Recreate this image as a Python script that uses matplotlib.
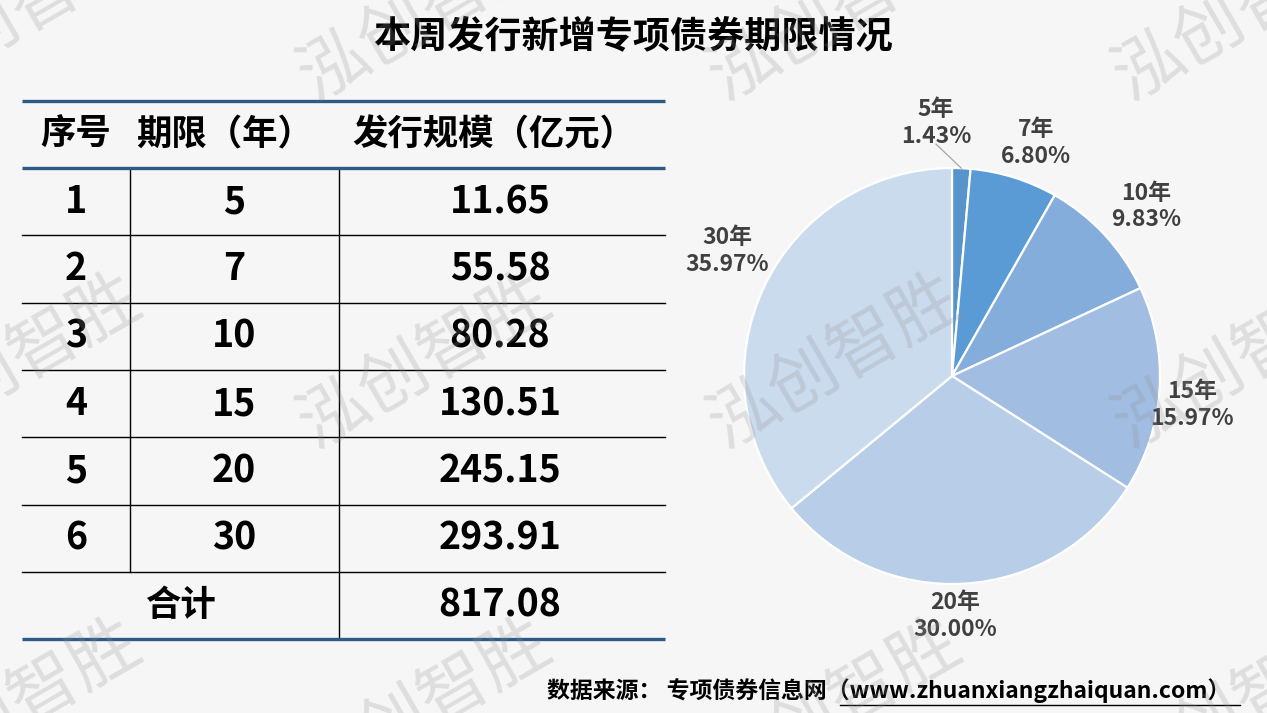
import matplotlib
matplotlib.use("Agg")
import matplotlib.pyplot as plt
import numpy as np

plt.rcParams['font.family'] = ['Noto Sans CJK SC', 'DejaVu Sans']

# ---------------- data ----------------
title = "本周发行新增专项债券期限情况"
headers = ["序号", "期限（年）", "发行规模（亿元）"]
seq_no = ["1", "2", "3", "4", "5", "6"]
terms = [5, 7, 10, 15, 20, 30]
amounts = [11.65, 55.58, 80.28, 130.51, 245.15, 293.91]
total_label = "合计"
total_amount = "817.08"
pie_labels = ["5年", "7年", "10年", "15年", "20年", "30年"]
source = "数据来源： 专项债券信息网（www.zhuanxiangzhaiquan.com）"
watermark = "泓创智胜"

# ---------------- style / layout ----------------
W, H = 1267, 713
bg = '#f6f6f6'
pie_colors = ['#5794cb', '#5b9bd5', '#85addc', '#a1bde2', '#b7cde8', '#cbdbee']
blue_line = '#2e5a88'
label_color = '#404040'
# label positions (pie data units, radius = 1)
label_pos = [(-0.077, 1.215), (0.404, 1.12), (0.933, 0.815),
             (1.154, -0.14), (0.014, -1.155), (-1.082, 0.60)]

fig = plt.figure(figsize=(W / 100, H / 100), dpi=100, facecolor=bg)

# full-figure axes in pixel coords for table and texts
axf = fig.add_axes([0, 0, 1, 1])
axf.set_xlim(0, W)
axf.set_ylim(H, 0)
axf.axis('off')
axf.set_facecolor(bg)

# title
axf.text(633, 37, title, ha='center', va='center', fontsize=26.7,
         fontweight='bold', color='black')

# ---------------- table ----------------
x0, x1 = 22, 665
xv1, xv2 = 130, 339
y_top = 101
hdr_h = 67
row_h = 67.3
n = len(seq_no)
y_hdr = y_top + hdr_h
row_edges = [y_hdr + i * row_h for i in range(n + 2)]  # rows + total
y_bot = row_edges[-1]

# thick blue lines
for y in (y_top, y_hdr, y_bot):
    axf.plot([x0, x1], [y, y], color=blue_line, lw=2.4, solid_capstyle='butt', zorder=3)
# thin row lines
for y in row_edges[1:-1]:
    axf.plot([x0, x1], [y, y], color='black', lw=1.0, zorder=2)
# vertical lines
axf.plot([xv1, xv1], [y_hdr, row_edges[n]], color='black', lw=1.0, zorder=2)
axf.plot([xv2, xv2], [y_hdr, y_bot], color='black', lw=1.0, zorder=2)

hdr_x = [76, 225, 494]
col_x = [76, 234, 500]
fs_tab = 25.5
for hx, htxt in zip(hdr_x, headers):
    axf.text(hx, y_top + hdr_h / 2, htxt, ha='center', va='center',
             fontsize=fs_tab, fontweight='bold', color='black')

for i in range(n):
    yc = (row_edges[i] + row_edges[i + 1]) / 2
    vals = [seq_no[i], str(terms[i]), f"{amounts[i]:.2f}"]
    for cx, v in zip(col_x, vals):
        axf.text(cx, yc, v, ha='center', va='center', fontsize=27,
                 fontweight='bold', color='black')

yc = (row_edges[n] + row_edges[n + 1]) / 2
axf.text(180, yc, total_label, ha='center', va='center', fontsize=fs_tab,
         fontweight='bold', color='black')
axf.text(col_x[2], yc, total_amount, ha='center', va='center', fontsize=27,
         fontweight='bold', color='black')

# source
axf.text(1230, 691, source, ha='right', va='center', fontsize=16.5,
         fontweight='bold', color='black')
axf.plot([840, 1240], [705, 705], color='black', lw=1.0)

# ---------------- pie ----------------
cx, cy, r = 952, 376, 208
half = 300
axp = fig.add_axes([(cx - half) / W, (H - cy - half) / H, 2 * half / W, 2 * half / H])
lim = half / r
axp.axis('off')
wedges, _ = axp.pie(amounts, startangle=90, counterclock=False, colors=pie_colors,
                    wedgeprops=dict(edgecolor='white', linewidth=1.6), radius=1.0,
                    center=(0, 0), frame=False)
axp.set_xlim(-lim, lim)
axp.set_ylim(-lim, lim)
axp.set_aspect('equal')

tot = sum(amounts)
for w, lab, amt, (lx, ly) in zip(wedges, pie_labels, amounts, label_pos):
    axp.text(lx, ly, f"{lab}\n{amt / tot * 100:.2f}%", ha='center', va='center',
             fontsize=16.5, fontweight='bold', color=label_color, linespacing=1.2)

# leader line for the small first slice
w0 = wedges[0]
mid = np.deg2rad((w0.theta1 + w0.theta2) / 2)
axp.plot([label_pos[0][0], np.cos(mid)], [label_pos[0][1] - 0.10, np.sin(mid)],
         color='#a6a6a6', lw=0.9)

# ---------------- watermarks ----------------
axw = fig.add_axes([0, 0, 1, 1])
axw.set_xlim(0, W)
axw.set_ylim(H, 0)
axw.axis('off')
axw.patch.set_alpha(0)
wm_x = [15, 425, 835, 1240]
wm_y = [14, 362, 707]
for wy in wm_y:
    for wx in wm_x:
        axw.text(wx, wy, watermark, ha='center', va='center', fontsize=50,
                 rotation=30, rotation_mode='anchor', color='#909090', alpha=0.24,
                 fontweight='light')

fig.savefig('out.png', dpi=100, facecolor=bg)
